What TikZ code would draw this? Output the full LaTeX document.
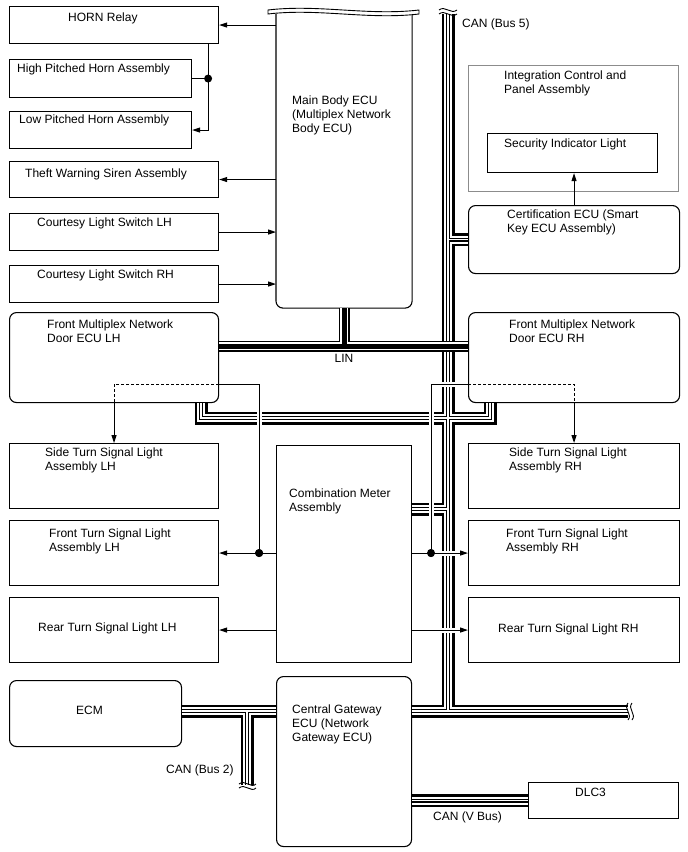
\documentclass[tikz,border=0pt]{standalone}
\usepackage{fontspec}
\setmainfont{Liberation Sans}
\usetikzlibrary{positioning,arrows.meta,calc}
\tikzset{
  box/.style={rectangle,draw,line width=1.1pt,inner sep=0pt,anchor=north west},
  rbox/.style={box,rounded corners=7pt},
  gbox/.style={box,draw=black!45},
  txt/.style={font=\fontsize{12}{14}\selectfont,align=left,inner sep=0pt,anchor=north west},
  ar/.style={-{Triangle[length=8pt,width=5pt]},line width=1pt},
  wire/.style={line width=1pt},
  over/.style={preaction={draw=white,line width=5pt,-,shorten <=2pt,shorten >=2pt}},
  dot/.style={circle,fill,inner sep=0pt,minimum size=8pt},
  brk/.style={line width=0.9pt},
}
% bus drawn in layers, so junctions merge
\newcommand\canbus[1]{%
  \draw[line width=13pt] #1;
  \draw[white,line width=8pt] #1;
  \draw[line width=4pt] #1;
  \draw[white,line width=1.6pt] #1;}
\newcommand\linbus[1]{%
  \draw[line width=11pt] #1;
  \draw[white,line width=8pt] #1;
  \draw[line width=5pt] #1;}

\begin{document}
\begin{tikzpicture}[x=1pt,y=-1pt]
  \useasboundingbox (0,0) rectangle (688,852);
  % left column
  \node[box,minimum width=209pt,minimum height=37pt] (horn) at (9,6) {};
  \node[box,minimum width=182pt,minimum height=38pt] (hi) at (9,59) {};
  \node[box,minimum width=182pt,minimum height=37pt] (lo) at (9,111) {};
  \node[box,minimum width=209pt,minimum height=36pt] (theft) at (9,161) {};
  \node[box,minimum width=209pt,minimum height=37pt] (clsl) at (9,213) {};
  \node[box,minimum width=209pt,minimum height=37pt] (clsr) at (9,265) {};
  \node[rbox,minimum width=209pt,minimum height=90pt] (doorl) at (9,312) {};
  \node[box,minimum width=209pt,minimum height=65pt] (sidel) at (9,443) {};
  \node[box,minimum width=209pt,minimum height=65pt] (frontl) at (9,520) {};
  \node[box,minimum width=209pt,minimum height=65pt] (rearl) at (9,597) {};
  \node[rbox,minimum width=172pt,minimum height=66pt] (ecm) at (9,680) {};
  % middle column
  \node[box,draw=none,minimum width=135pt,minimum height=293pt] (mbe) at (276,14) {};
  \draw[line width=1.1pt,rounded corners=7pt] (mbe.north west) -- (mbe.south west) -- (mbe.south east) -- (mbe.north east);
  \node[box,minimum width=135pt,minimum height=217pt] (meter) at (276,445) {};
  \node[rbox,minimum width=135pt,minimum height=170pt] (gw) at (276,676) {};
  % right column
  \node[gbox,minimum width=210pt,minimum height=126pt] (icp) at (468,65) {};
  \node[box,minimum width=170pt,minimum height=39pt] (sil) at (487,133) {};
  \node[rbox,minimum width=211pt,minimum height=68pt] (cert) at (468,205) {};
  \node[rbox,minimum width=211pt,minimum height=90pt] (doorr) at (468,312) {};
  \node[box,minimum width=211pt,minimum height=65pt] (sider) at (468,443) {};
  \node[box,minimum width=211pt,minimum height=65pt] (frontr) at (468,520) {};
  \node[box,minimum width=211pt,minimum height=65pt] (rearr) at (468,597) {};
  \node[box,minimum width=150pt,minimum height=36pt] (dlc) at (528,782) {};

  % texts
  \node[txt,below right=7pt and 59pt of horn.north west] (horn-t) {HORN Relay};
  \node[txt,below right=5pt and 8pt of hi.north west] (hi-t) {High Pitched Horn Assembly};
  \node[txt,below right=4pt and 10pt of lo.north west] (lo-t) {Low Pitched Horn Assembly};
  \node[txt,below right=8pt and 16pt of theft.north west] (theft-t) {Theft Warning Siren Assembly};
  \node[txt,below right=5pt and 28pt of clsl.north west] (clsl-t) {Courtesy Light Switch LH};
  \node[txt,below right=5pt and 28pt of clsr.north west] (clsr-t) {Courtesy Light Switch RH};
  \node[txt,below right=8pt and 38pt of doorl.north west] (doorl-t) {Front Multiplex Network\\Door ECU LH};
  \node[txt,below right=5pt and 36pt of sidel.north west] (sidel-t) {Side Turn Signal Light\\Assembly LH};
  \node[txt,below right=9pt and 40pt of frontl.north west] (frontl-t) {Front Turn Signal Light\\Assembly LH};
  \node[txt,below right=26pt and 29pt of rearl.north west] (rearl-t) {Rear Turn Signal Light LH};
  \node[txt,below right=26pt and 67pt of ecm.north west] (ecm-t) {ECM};
  \node[txt,below right=82pt and 16pt of mbe.north west] (mbe-t) {Main Body ECU\\(Multiplex Network\\Body ECU)};
  \node[txt,below right=44pt and 13pt of meter.north west] (meter-t) {Combination Meter\\Assembly};
  \node[txt,below right=29pt and 16pt of gw.north west] (gw-t) {Central Gateway\\ECU (Network\\Gateway ECU)};
  \node[txt,below right=6pt and 36pt of icp.north west] (icp-t) {Integration Control and\\Panel Assembly};
  \node[txt,below right=6pt and 17pt of sil.north west] (sil-t) {Security Indicator Light};
  \node[txt,below right=5pt and 39pt of cert.north west] (cert-t) {Certification ECU (Smart\\Key ECU Assembly)};
  \node[txt,below right=8pt and 41pt of doorr.north west] (doorr-t) {Front Multiplex Network\\Door ECU RH};
  \node[txt,below right=5pt and 41pt of sider.north west] (sider-t) {Side Turn Signal Light\\Assembly RH};
  \node[txt,below right=9pt and 38pt of frontr.north west] (frontr-t) {Front Turn Signal Light\\Assembly RH};
  \node[txt,below right=27pt and 30pt of rearr.north west] (rearr-t) {Rear Turn Signal Light RH};
  \node[txt,below right=6pt and 47pt of dlc.north west] (dlc-t) {DLC3};

  % bus points
  \coordinate (can5) at (448,14);
  \coordinate (can5b) at (448,711);
  \coordinate (canend) at (628,711);
  \coordinate (bus2) at (247,785);
  \coordinate (lin) at (344,346);
  \canbus{(can5) -- (can5b) (gw.east |- can5b) -- (canend)
    (can5 |- cert.west) -- (cert.west)
    ([xshift=-18pt]doorl.south east) -- ++(0,15) -| ([xshift=22pt]doorr.south west)
    (meter.east |- 0,509) -- (can5 |- 0,509)
    (ecm.east |- can5b) -- (gw.west |- can5b) (bus2 |- can5b) -- (bus2)
    (gw.east |- dlc.west) -- (dlc.west)}
  \linbus{(doorl.east |- lin) -- (doorr.west |- lin) (mbe.south) -- (mbe.south |- lin)}
  \node[txt,anchor=north] (lin-t) at ([yshift=-8pt]lin) {LIN};
  \node[txt] (can5-t) at (462,19) {CAN (Bus 5)};
  \node[txt] (bus2-t) at (166,765) {CAN (Bus 2)};
  \node[txt] (vbus-t) at (433,812) {CAN (V Bus)};

  % break marks
  \draw[brk,fill=white] (268,10) .. controls (318,4) and (368,16) .. (419,10)
    -- (419,14) .. controls (368,20) and (318,8) .. (268,14) -- cycle;
  \draw[brk] (439,10) .. controls (445,5) and (451,15) .. (457,10);
  \draw[brk] (439,14) .. controls (445,9) and (451,19) .. (457,14);
  \draw[brk] (239,784) .. controls (245,779) and (251,789) .. (256,784);
  \draw[brk] (239,788) .. controls (245,783) and (251,793) .. (256,788);
  \draw[brk] (628,703) .. controls (623,709) and (633,714) .. (628,720);
  \draw[brk] (632,703) .. controls (627,709) and (637,714) .. (632,720);

  % signal lines
  \draw[ar] (horn.east -| mbe.west) -- (horn.east);
  \draw[ar] ([xshift=-11pt]horn.south east) |- (lo.east);
  \node[dot] (jh) at ([xshift=-11pt]horn.south east |- hi.east) {};
  \draw[wire] (hi.east) -- (jh);
  \draw[ar] (theft.east -| mbe.west) -- (theft.east);
  \draw[ar] (clsl.east) -- (clsl.east -| mbe.west);
  \draw[ar] (clsr.east) -- (clsr.east -| mbe.west);
  \draw[ar] (cert.north) -- (cert.north |- sil.south);

  \coordinate (dl) at ([yshift=19pt]doorl.south east);
  \coordinate (dr) at ([yshift=19pt]doorr.south west);
  \node[dot] (jl) at ([xshift=40pt]frontl.east) {};
  \node[dot] (jr) at ([xshift=-37pt]frontr.west) {};
  \draw[wire,over] (dl) -| (jl);
  \draw[wire,over] (dr) -| (jr);
  \draw[wire,dash pattern=on 3pt off 2pt] (dl) -| (sidel.north |- doorl.south);
  \draw[wire,dash pattern=on 3pt off 2pt] (dr) -| (sider.north |- doorr.south);
  \draw[ar] (sidel.north |- doorl.south) -- (sidel.north);
  \draw[ar] (sider.north |- doorr.south) -- (sider.north);
  \draw[ar] (frontl.east -| meter.west) -- (frontl.east);
  \draw[ar] (rearl.east -| meter.west) -- (rearl.east);
  \draw[ar,over] (frontr.west -| meter.east) -- (frontr.west);
  \draw[ar,over] (rearr.west -| meter.east) -- (rearr.west);
  \node[dot] at (jl) {};
  \node[dot] at (jr) {};
\end{tikzpicture}
\end{document}
